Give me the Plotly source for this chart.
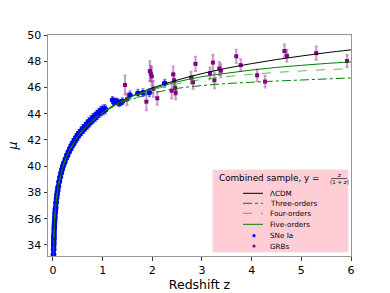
import plotly.graph_objects as go

# ---------------- data ----------------
curve_z = [0.01, 0.02, 0.03, 0.05, 0.07, 0.1, 0.15, 0.2, 0.3, 0.4, 0.5, 0.6, 0.7, 0.8,
           1.0, 1.25, 1.5, 1.75, 2.0, 2.5, 3.0, 3.5, 4.0, 4.5, 5.0, 5.5, 6.0]
mu_lcdm = [33.18, 34.70, 35.59, 36.72, 37.48, 38.30, 39.22, 39.96, 40.95, 41.66, 42.26, 42.74, 43.15, 43.49,
           44.10, 44.70, 45.19, 45.60, 45.96, 46.56, 47.06, 47.47, 47.82, 48.13, 48.40, 48.65, 48.87]
mu_five = [33.18, 34.70, 35.59, 36.72, 37.48, 38.30, 39.22, 39.96, 40.95, 41.66, 42.26, 42.74, 43.15, 43.49,
           44.10, 44.69, 45.16, 45.55, 45.88, 46.43, 46.82, 47.09, 47.33, 47.53, 47.69, 47.83, 47.95]
mu_four = [33.18, 34.70, 35.59, 36.72, 37.48, 38.30, 39.22, 39.96, 40.95, 41.66, 42.26, 42.74, 43.15, 43.49,
           44.09, 44.67, 45.14, 45.50, 45.81, 46.28, 46.61, 46.83, 47.00, 47.15, 47.26, 47.36, 47.43]
mu_three = [33.18, 34.70, 35.59, 36.72, 37.48, 38.30, 39.22, 39.96, 40.95, 41.66, 42.26, 42.74, 43.15, 43.48,
            44.07, 44.60, 44.99, 45.30, 45.56, 45.93, 46.15, 46.30, 46.40, 46.49, 46.57, 46.65, 46.73]

sne_z = [0.010, 0.011, 0.012, 0.013, 0.014, 0.015, 0.016, 0.017, 0.018, 0.019, 0.020, 0.022, 0.024,
         0.026, 0.028, 0.030, 0.033, 0.036, 0.039, 0.042, 0.045, 0.048, 0.051, 0.055, 0.060, 0.065,
         0.070, 0.075, 0.080, 0.085, 0.090, 0.095, 0.100, 0.110, 0.120, 0.130, 0.140, 0.150, 0.160,
         0.170, 0.180, 0.190, 0.200, 0.210, 0.220, 0.235, 0.250, 0.265, 0.280, 0.295, 0.310, 0.325,
         0.340, 0.355, 0.370, 0.385, 0.400, 0.415, 0.430, 0.445, 0.460, 0.475, 0.490, 0.505, 0.520,
         0.540, 0.560, 0.580, 0.600, 0.620, 0.640, 0.660, 0.680, 0.700, 0.720, 0.740, 0.760, 0.780,
         0.800, 0.820, 0.840, 0.860, 0.880, 0.900, 0.920, 0.940, 0.960, 0.980, 1.000, 1.020, 1.040,
         1.060, 1.200, 1.230, 1.260, 1.300, 1.330, 1.370, 1.400, 1.550, 1.710, 1.810, 1.940, 2.250]
sne_mu = [33.25, 33.30, 33.62, 33.70, 33.95, 34.10, 34.18, 34.40, 34.45, 34.62, 34.74, 34.92, 35.15,
          35.30, 35.44, 35.62, 35.80, 36.02, 36.15, 36.38, 36.50, 36.66, 36.80, 36.90, 37.18, 37.28,
          37.52, 37.62, 37.83, 37.88, 38.10, 38.15, 38.36, 38.48, 38.80, 38.86, 39.15, 39.20, 39.48,
          39.50, 39.76, 39.80, 40.02, 40.05, 40.25, 40.30, 40.55, 40.58, 40.85, 40.82, 41.10, 41.08,
          41.35, 41.32, 41.58, 41.55, 41.78, 41.72, 41.98, 41.92, 42.18, 42.10, 42.35, 42.28, 42.50,
          42.45, 42.68, 42.62, 42.88, 42.80, 43.05, 42.98, 43.22, 43.12, 43.40, 43.30, 43.55, 43.45,
          43.70, 43.58, 43.82, 43.72, 43.98, 43.88, 44.12, 44.02, 44.25, 44.15, 44.35, 44.22, 44.40,
          44.30, 45.05, 44.85, 44.95, 44.92, 44.80, 44.85, 44.95, 45.43, 45.56, 45.60, 45.60, 46.32]
sne_err = [0.3] * 92 + [0.25] * 7 + [0.3] * 5

grb_z = [1.45, 1.49, 1.88, 1.95, 1.97, 1.99, 2.02, 2.10, 2.39, 2.42, 2.44, 2.46, 2.47, 2.78, 2.82,
         2.87, 3.16, 3.22, 3.25, 3.35, 3.38, 3.69, 3.78, 4.11, 4.27, 4.66, 4.71, 5.30, 5.92]
grb_mu = [46.19, 45.10, 44.92, 47.25, 47.05, 46.85, 45.90, 45.18, 45.76, 47.00, 46.55, 45.95, 45.60,
          46.75, 46.40, 47.80, 47.08, 47.90, 46.55, 47.45, 47.28, 48.38, 47.70, 46.93, 46.45, 48.78,
          48.42, 48.62, 48.02]
grb_err = [0.72, 0.45, 0.65, 0.75, 0.60, 0.70, 0.60, 0.50, 0.60, 0.60, 0.50, 0.55, 0.50, 0.45, 0.50,
           0.55, 0.45, 0.60, 0.60, 0.50, 0.50, 0.50, 0.45, 0.45, 0.45, 0.50, 0.45, 0.50, 0.45]

x_ticks = [0, 1, 2, 3, 4, 5, 6]
y_ticks = [34, 36, 38, 40, 42, 44, 46, 48, 50]

legend_title = "Combined sample, y = "
legend_labels = ["ΛCDM", "Three-orders", "Four-orders", "Five-orders", "SNe Ia", "GRBs"]

# ---------------- figure ----------------
FONT = "DejaVu Sans"
W, H = 390, 293
L, R, T, B = 48, 39, 35, 37
PW, PH = W - L - R, H - T - B

def px(x):
    return (x - L) / PW

def py(y):
    return (H - B - y) / PH

fig = go.Figure()

fig.add_trace(go.Scatter(
    x=sne_z, y=sne_mu, mode="markers",
    marker=dict(color="blue", size=5.5, line=dict(width=0)),
    error_y=dict(type="data", array=sne_err, color="rgba(0,0,255,0.6)", thickness=1, width=1.5),
    showlegend=False))
fig.add_trace(go.Scatter(
    x=grb_z, y=grb_mu, mode="markers",
    marker=dict(color="purple", size=4, symbol="square", line=dict(width=0)),
    error_y=dict(type="data", array=grb_err, color="rgba(128,0,128,0.4)", thickness=2, width=1.5),
    showlegend=False))

line_styles = [
    (mu_lcdm, "black", "solid", 1.0),
    (mu_three, "green", "dashdot", 1.0),
    (mu_four, "rgba(40,160,40,0.75)", "dash", 1.0),
    (mu_five, "green", "solid", 1.0),
]
for ys, col, dash, wdt in line_styles:
    fig.add_trace(go.Scatter(x=curve_z, y=ys, mode="lines", line_shape="spline",
                             line=dict(color=col, dash=dash, width=wdt), showlegend=False))

axis_common = dict(showgrid=False, zeroline=False, showline=True, mirror=True, automargin=False,
                   linecolor="rgb(150,150,150)", linewidth=1,
                   ticks="outside", ticklen=3.5, tickwidth=1, tickcolor="rgb(60,60,60)",
                   tickfont=dict(family=FONT, size=11, color="black"))

fig.update_xaxes(range=[-0.1, 6.0], tickvals=x_ticks,
                 title=dict(text="Redshift z", font=dict(family=FONT, size=12.5, color="black"), standoff=4),
                 **axis_common)
fig.update_yaxes(range=[33.16, 50.0], tickvals=y_ticks,
                 title=dict(text="<i>μ</i>", font=dict(family=FONT, size=12.5, color="black"), standoff=6),
                 **axis_common)

# ---------------- hand-built legend ----------------
shapes = [dict(type="rect", xref="paper", yref="paper", x0=px(213), x1=px(348), y0=py(252), y1=py(170),
               fillcolor="rgb(255,205,213)", line=dict(color="rgb(245,215,220)", width=1), layer="above")]
annotations = [
    dict(text=legend_title, x=px(217), y=py(178), xref="paper", yref="paper", xanchor="left",
         yanchor="middle", showarrow=False, font=dict(family=FONT, size=8.8, color="black")),
    dict(text="<i>z</i>", x=px(339), y=py(174.5), xref="paper", yref="paper", xanchor="center",
         yanchor="middle", showarrow=False, font=dict(family=FONT, size=5.5, color="black")),
    dict(text="(1 + <i>z</i>)", x=px(339), y=py(182.3), xref="paper", yref="paper", xanchor="center",
         yanchor="middle", showarrow=False, font=dict(family=FONT, size=5.5, color="black")),
]
shapes.append(dict(type="line", xref="paper", yref="paper", x0=px(331), x1=px(347), y0=py(178.5), y1=py(178.5),
                   line=dict(color="black", width=0.6)))

rows = [193.3, 203.3, 213.3, 224.3, 235.7, 246.0]
samples = [("black", "solid"), ("green", "dashdot"), ("rgba(40,160,40,0.75)", "dash"), ("green", "solid")]
for i, (col, dash) in enumerate(samples):
    shapes.append(dict(type="line", xref="paper", yref="paper", x0=px(243), x1=px(263),
                       y0=py(rows[i]), y1=py(rows[i]), line=dict(color=col, dash=dash, width=1)))
for i, col in [(4, "blue"), (5, "purple")]:
    r = 1.6
    shapes.append(dict(type="circle", xref="paper", yref="paper", x0=px(254 - r), x1=px(254 + r),
                       y0=py(rows[i] + r), y1=py(rows[i] - r), fillcolor=col, line=dict(width=0)))
for i, lab in enumerate(legend_labels):
    annotations.append(dict(text=lab, x=px(268), y=py(rows[i]), xref="paper", yref="paper",
                            xanchor="left", yanchor="middle", showarrow=False,
                            font=dict(family=FONT, size=7.2, color="black")))

fig.update_layout(width=W, height=H, margin=dict(l=L, r=R, t=T, b=B),
                  paper_bgcolor="white", plot_bgcolor="white",
                  shapes=shapes, annotations=annotations, showlegend=False)

fig.write_html("out.html", config={"displayModeBar": False},
               post_script="document.body.style.margin='0';document.body.style.padding='0';")
